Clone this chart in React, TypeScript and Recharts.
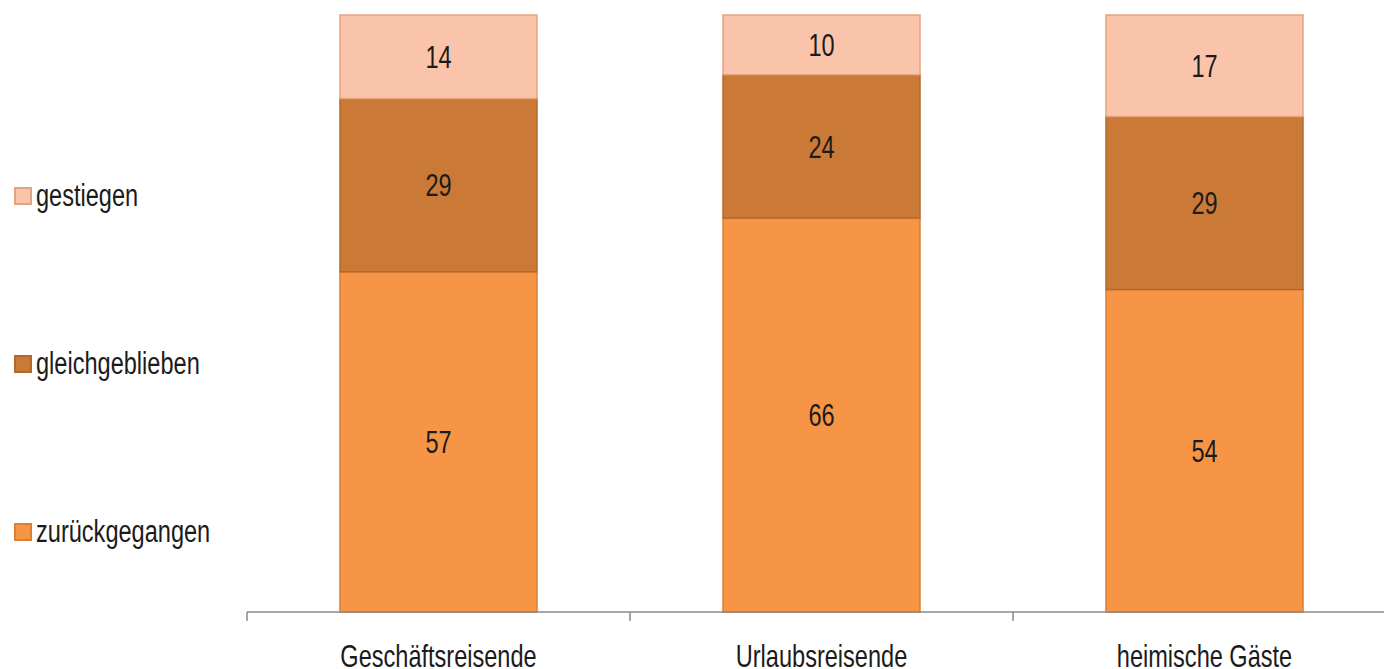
import { Bar, BarChart, LabelList, Legend, XAxis, YAxis } from "recharts";

const categories = ["Geschäftsreisende", "Urlaubsreisende", "heimische Gäste"];
const zurueckgegangen = [57, 66, 54];
const gleichgeblieben = [29, 24, 29];
const gestiegen = [14, 10, 17];
// category boundaries on the helper axis that carries the tick marks
const edgeTicks = [0, 1, 2, 3];

// no narrow face installed, so Liberation Sans gets squeezed horizontally
const FONT = "'Liberation Sans', Arial, sans-serif";
const FONT_SIZE = 31;
const SQUEEZE = 0.76;
const INK = "#1b1b1b";

const data = categories.map((name, i) => ({
  name,
  pos: i + 0.5,
  zurueckgegangen: zurueckgegangen[i],
  gleichgeblieben: gleichgeblieben[i],
  gestiegen: gestiegen[i],
}));

const series = [
  { key: "zurueckgegangen", label: "zurückgegangen", fill: "#F69545", stroke: "#DC7F34" },
  { key: "gleichgeblieben", label: "gleichgeblieben", fill: "#CB7936", stroke: "#B4692C" },
  { key: "gestiegen", label: "gestiegen", fill: "#F9C4AA", stroke: "#E5A27E" },
];

function NarrowText({ x, y, text, dy }: { x: number; y: number; text: string | number; dy?: string }) {
  return (
    <text
      transform={`translate(${x},${y}) scale(${SQUEEZE},1)`}
      textAnchor="middle"
      dy={dy}
      fontFamily={FONT}
      fontSize={FONT_SIZE}
      fill={INK}
    >
      {text}
    </text>
  );
}

function CategoryTick(props: any) {
  const { x, y, payload } = props;
  return <NarrowText x={x} y={y} text={payload.value} dy="0.71em" />;
}

function SegmentLabel(props: any) {
  const { x, y, width, height, value } = props;
  return <NarrowText x={x + width / 2} y={y + height / 2} text={value} dy="0.36em" />;
}

// legend stacked top-down in reverse series order, like the bars
function SideLegend() {
  return (
    <div style={{ fontFamily: FONT, fontSize: FONT_SIZE, color: INK }}>
      {[...series].reverse().map((s) => (
        <div
          key={s.key}
          style={{ display: "flex", alignItems: "center", height: 30, marginBottom: 138, whiteSpace: "nowrap" }}
        >
          <span
            style={{
              flex: "0 0 auto",
              width: 14,
              height: 14,
              background: s.fill,
              border: `2px solid ${s.stroke}`,
              marginLeft: 14,
              marginRight: 4,
            }}
          />
          <span
            style={{
              display: "inline-block",
              lineHeight: "30px",
              transform: `scaleX(${SQUEEZE})`,
              transformOrigin: "left center",
            }}
          >
            {s.label}
          </span>
        </div>
      ))}
    </div>
  );
}

export default function App() {
  return (
    <div
      style={{
        position: "absolute",
        left: 0,
        top: 0,
        width: 1384,
        height: 669,
        overflow: "hidden",
        background: "#ffffff",
        fontFamily: FONT,
      }}
    >
      <BarChart
        width={1400}
        height={669}
        data={data}
        margin={{ top: 15, right: 4, bottom: 0, left: 27 }}
        barSize={197}
      >
        <XAxis
          xAxisId="a-edge"
          type="number"
          dataKey="pos"
          domain={[0, 3]}
          ticks={edgeTicks}
          height={1}
          axisLine={{ stroke: "#8a8a8a", strokeWidth: 1.5 }}
          tickLine={{ stroke: "#8a8a8a", strokeWidth: 1.5 }}
          tickSize={9}
          tickFormatter={() => ""}
        />
        <XAxis
          xAxisId="b-cat"
          dataKey="name"
          height={56}
          axisLine={false}
          tickLine={false}
          tickSize={6}
          tickMargin={26}
          interval={0}
          tick={<CategoryTick />}
        />
        <YAxis hide domain={[0, 100]} />
        <Legend
          layout="vertical"
          align="left"
          verticalAlign="middle"
          wrapperStyle={{ left: 0, top: 181, width: 220 }}
          content={<SideLegend />}
        />
        {series.map((s) => (
          <Bar
            key={s.key}
            xAxisId="b-cat"
            dataKey={s.key}
            name={s.label}
            stackId="a"
            fill={s.fill}
            stroke={s.stroke}
            strokeWidth={1.5}
            isAnimationActive={false}
          >
            <LabelList dataKey={s.key} content={<SegmentLabel />} />
          </Bar>
        ))}
      </BarChart>
    </div>
  );
}
